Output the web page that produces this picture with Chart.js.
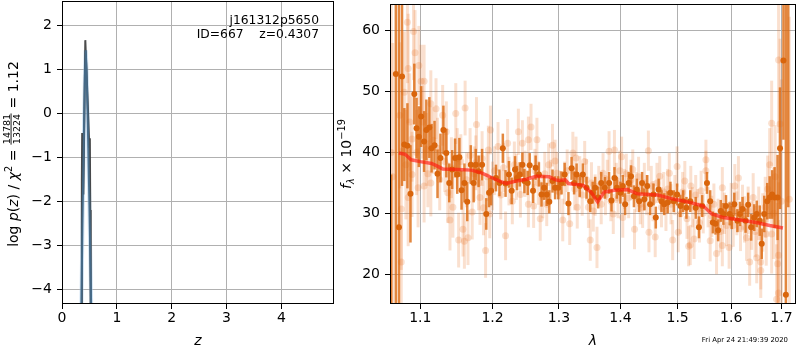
<!DOCTYPE html>
<html>
<head>
<meta charset="utf-8">
<script src="https://cdn.jsdelivr.net/npm/chart.js@4.4.1/dist/chart.umd.min.js"></script>
<style>
    html, body { margin: 0; padding: 0; background: #fff; }
    #wrap { position: relative; width: 800px; height: 350px; }
    #pz-chart { position: absolute; left: 0; top: 0; }
    #spec-chart { position: absolute; left: 330px; top: 0; }
</style>
</head>
<body>
<div id="wrap">
    <canvas id="pz-chart" width="340" height="350"></canvas>
    <canvas id="spec-chart" width="470" height="350"></canvas>
</div>
<script>
// left panel: redshift probability
const pzTicksX = [0, 1, 2, 3, 4];
const pzTicksY = [-4, -3, -2, -1, 0, 1, 2];
const pzZ = [0.350, 0.372, 0.398, 0.418, 0.432, 0.447, 0.470, 0.500, 0.520, 0.537];
const pzLogP = [-4.8, -2.6, -0.6, 0.85, 1.43, 1.0, -0.2, -2.1, -3.5, -4.8];
const chiZ = [0.355, 0.362, 0.368, 0.389, 0.425, 0.440, 0.470, 0.497, 0.508, 0.515, 0.524];
const chiLogP = [-4.8, -1.5, -0.45, -1.85, 1.66, 1.15, 0.2, -0.77, -0.57, -2.2, -4.8];

// right panel: spectrum
const waveTicks = [1.1, 1.2, 1.3, 1.4, 1.5, 1.6, 1.7];
const fluxTicks = [20, 30, 40, 50, 60];

const rawWave = [
    1.062, 1.064, 1.073, 1.075, 1.075, 1.079, 1.081, 1.083, 1.084, 1.084,
    1.086, 1.089, 1.089, 1.091, 1.093, 1.095, 1.097, 1.098, 1.101, 1.103,
    1.105, 1.105, 1.108, 1.110, 1.114, 1.114, 1.117, 1.121, 1.123, 1.126,
    1.130, 1.133, 1.135, 1.137, 1.140, 1.142, 1.144, 1.148, 1.150, 1.152,
    1.155, 1.158, 1.160, 1.161, 1.163, 1.165, 1.168, 1.171, 1.174, 1.176,
    1.177, 1.180, 1.182, 1.185, 1.187, 1.190, 1.192, 1.194, 1.196, 1.197,
    1.200, 1.203, 1.208, 1.212, 1.216, 1.219, 1.222, 1.224, 1.229, 1.232,
    1.235, 1.238, 1.241, 1.244, 1.248, 1.253, 1.253, 1.257, 1.261, 1.263,
    1.266, 1.268, 1.271, 1.275, 1.278, 1.281, 1.284, 1.287, 1.290, 1.294,
    1.297, 1.301, 1.306, 1.309, 1.313, 1.317, 1.322, 1.325, 1.327, 1.329,
    1.333, 1.337, 1.341, 1.344, 1.347, 1.350, 1.352, 1.355, 1.358, 1.361,
    1.364, 1.368, 1.371, 1.375, 1.378, 1.381, 1.384, 1.388, 1.390, 1.393,
    1.396, 1.399, 1.402, 1.404, 1.407, 1.410, 1.414, 1.418, 1.421, 1.424,
    1.427, 1.431, 1.434, 1.438, 1.441, 1.445, 1.448, 1.449, 1.453, 1.456,
    1.460, 1.463, 1.468, 1.471, 1.475, 1.479, 1.482, 1.485, 1.488, 1.491,
    1.495, 1.499, 1.501, 1.505, 1.509, 1.513, 1.517, 1.520, 1.523, 1.524,
    1.527, 1.530, 1.533, 1.537, 1.540, 1.543, 1.547, 1.552, 1.552, 1.556,
    1.560, 1.563, 1.567, 1.572, 1.575, 1.579, 1.583, 1.583, 1.587, 1.591,
    1.596, 1.600, 1.604, 1.607, 1.611, 1.614, 1.618, 1.622, 1.626, 1.630,
    1.633, 1.636, 1.640, 1.643, 1.647, 1.650, 1.654, 1.658, 1.658, 1.662,
    1.667, 1.669, 1.672, 1.676, 1.680, 1.680, 1.684, 1.687, 1.690, 1.692,
    1.694, 1.694, 1.694, 1.697, 1.700, 1.716
];
const rawFlux = [
    40.0, 36.0, 46.1, 30.7, 22.0, 49.9, 38.0, 61.4, 53.8, 32.6,
    45.0, 42.2, 36.4, 59.9, 56.4, 40.0, 34.2, 54.3, 51.7, 45.0,
    51.7, 34.5, 40.5, 36.5, 48.0, 35.0, 42.0, 47.2, 40.7, 35.5,
    46.1, 38.5, 43.4, 33.4, 28.9, 37.5, 31.0, 46.4, 39.0, 25.6,
    38.5, 27.4, 25.4, 47.3, 35.5, 26.0, 39.5, 30.2, 36.5, 38.3,
    44.6, 35.0, 32.6, 39.0, 30.9, 23.9, 36.0, 40.4, 29.9, 43.7,
    34.5, 37.0, 41.0, 33.0, 37.5, 26.3, 41.5, 35.3, 32.0, 38.0,
    36.0, 43.4, 33.1, 41.5, 36.5, 42.1, 31.5, 44.2, 31.2, 37.0,
    42.1, 35.0, 29.1, 32.8, 36.5, 31.5, 38.0, 35.3, 41.2, 38.6,
    36.6, 33.5, 28.9, 35.0, 37.0, 28.3, 39.9, 34.0, 39.1, 31.0,
    36.0, 33.0, 38.5, 35.5, 31.0, 25.6, 35.0, 30.4, 33.0, 24.4,
    34.5, 31.5, 36.6, 33.0, 35.5, 40.2, 32.0, 29.9, 40.4, 35.0,
    32.5, 37.0, 39.3, 29.3, 34.0, 36.5, 32.5, 35.5, 37.2, 27.4,
    33.5, 36.0, 31.5, 30.9, 35.0, 33.0, 40.3, 26.9, 34.5, 32.0,
    26.1, 35.0, 36.1, 31.0, 33.5, 30.4, 34.0, 36.6, 31.5, 25.6,
    33.0, 37.7, 26.9, 29.9, 33.5, 35.3, 29.1, 24.6, 24.8, 34.5,
    31.0, 25.8, 33.0, 30.7, 28.5, 33.7, 30.0, 38.8, 37.0, 31.0,
    25.5, 29.5, 31.5, 23.4, 29.0, 27.0, 34.2, 24.7, 30.0, 28.0,
    24.4, 31.5, 28.0, 34.5, 30.0, 35.8, 27.5, 31.0, 29.0, 26.0,
    30.5, 22.0, 28.0, 32.6, 27.0, 22.7, 30.0, 22.0, 20.6, 28.5,
    31.0, 26.6, 34.0, 38.0, 44.8, 26.6, 30.0, 36.0, 15.9, 21.7,
    55.2, 23.1, 16.9, 44.7, 32.0, 32.3
];
const rawErr = [
    25, 22, 12, 10, 8, 10, 9, 10, 9, 8,
    8, 7, 7, 8, 7, 7, 6.5, 6.5, 6, 6,
    6, 6, 6, 5.5, 5.5, 5.5, 5.5, 5, 5, 5,
    5, 5, 5, 5, 5, 5, 5, 5, 5, 4.5,
    4.5, 4.5, 4.5, 4.5, 4.5, 4.5, 4.5, 4.5, 4.5, 4.5,
    4.5, 4.5, 4.5, 4.5, 4.5, 4.5, 4, 4, 4, 4,
    4, 4, 4, 4, 4, 4, 4, 4, 3.8, 3.8,
    3.8, 3.8, 3.8, 3.8, 3.8, 3.8, 3.8, 3.8, 3.6, 3.6,
    3.6, 3.6, 3.6, 3.6, 3.6, 3.6, 3.5, 3.5, 3.5, 3.5,
    3.5, 3.5, 3.5, 3.5, 3.5, 3.5, 3.5, 3.5, 3.5, 3.5,
    3.4, 3.4, 3.4, 3.4, 3.4, 3.4, 3.4, 3.4, 3.4, 3.4,
    3.3, 3.3, 3.3, 3.3, 3.3, 3.3, 3.3, 3.3, 3.3, 3.3,
    3.3, 3.3, 3.3, 3.3, 3.3, 3.3, 3.3, 3.3, 3.3, 3.3,
    3.3, 3.3, 3.3, 3.3, 3.3, 3.3, 3.3, 3.3, 3.3, 3.3,
    3.3, 3.3, 3.3, 3.3, 3.3, 3.3, 3.3, 3.3, 3.3, 3.3,
    3.3, 3.3, 3.3, 3.3, 3.3, 3.3, 3.3, 3.3, 3.3, 3.3,
    3.3, 3.3, 3.3, 3.3, 3.3, 3.3, 3.3, 3.3, 3.3, 3.3,
    3.4, 3.4, 3.4, 3.4, 3.4, 3.4, 3.4, 3.4, 3.4, 3.4,
    3.5, 3.5, 3.5, 3.6, 3.6, 3.6, 3.7, 3.7, 3.8, 3.8,
    3.9, 3.9, 4.0, 4.0, 4.2, 4.2, 4.4, 4.5, 4.5, 4.8,
    5.0, 5.2, 5.5, 6.0, 7.0, 6.5, 7.5, 8.5, 9.0, 10,
    12, 12, 12, 14, 20, 30
];

const binWave = [
    1.062, 1.068, 1.072, 1.076, 1.079, 1.083, 1.087, 1.092, 1.095, 1.098,
    1.101, 1.105, 1.108, 1.112, 1.115, 1.119, 1.123, 1.127, 1.131, 1.135,
    1.139, 1.143, 1.147, 1.150, 1.153, 1.156, 1.160, 1.164, 1.169, 1.173,
    1.176, 1.180, 1.185, 1.191, 1.195, 1.198, 1.205, 1.210, 1.215, 1.219,
    1.224, 1.228, 1.233, 1.236, 1.240, 1.244, 1.247, 1.252, 1.255, 1.260,
    1.264, 1.269, 1.273, 1.277, 1.281, 1.285, 1.290, 1.294, 1.299, 1.304,
    1.309, 1.315, 1.320, 1.324, 1.328, 1.333, 1.338, 1.344, 1.350, 1.354,
    1.358, 1.363, 1.368, 1.374, 1.381, 1.385, 1.390, 1.394, 1.400, 1.404,
    1.408, 1.414, 1.418, 1.423, 1.428, 1.432, 1.437, 1.441, 1.446, 1.451,
    1.457, 1.461, 1.466, 1.471, 1.476, 1.482, 1.487, 1.493, 1.499, 1.505,
    1.510, 1.516, 1.523, 1.533, 1.539, 1.545, 1.554, 1.560, 1.565, 1.570,
    1.575, 1.580, 1.585, 1.590, 1.597, 1.601, 1.606, 1.612, 1.617, 1.622,
    1.628, 1.633, 1.639, 1.645, 1.650, 1.656, 1.660, 1.665, 1.671, 1.676,
    1.681, 1.686, 1.692, 1.697, 1.704, 1.709, 1.714
];
const binFlux = [
    10.0, 52.9, 27.7, 52.5, 41.3, 41.1, 33.2, 49.6, 44.0, 42.6,
    45.9, 41.8, 43.7, 44.1, 40.7, 41.2, 36.5, 39.1, 43.7, 39.9,
    35.0, 37.2, 39.1, 36.4, 39.2, 33.8, 35.0, 31.9, 38.0, 35.0,
    38.0, 36.9, 38.0, 29.9, 33.4, 33.7, 35.8, 35.0, 40.7, 34.9,
    36.4, 33.7, 37.2, 35.8, 36.4, 38.0, 35.3, 35.0, 37.9, 33.7,
    37.5, 36.4, 33.1, 34.2, 33.1, 31.9, 35.3, 34.2, 34.2, 35.0,
    36.4, 31.6, 37.4, 35.0, 36.4, 34.5, 36.4, 34.2, 32.0, 33.4,
    34.2, 32.6, 35.0, 34.2, 35.0, 32.1, 35.8, 34.2, 33.4, 34.5,
    31.5, 35.0, 36.1, 32.8, 33.9, 32.0, 35.0, 32.3, 34.5, 31.5,
    33.1, 29.3, 33.9, 32.0, 31.5, 31.8, 33.4, 32.0, 33.1, 31.2,
    32.0, 30.9, 32.0, 30.9, 27.7, 31.2, 35.0, 32.0, 28.5, 28.3,
    27.2, 30.4, 29.9, 31.2, 29.9, 29.3, 31.5, 28.8, 29.9, 30.7,
    28.8, 31.4, 27.7, 29.3, 29.9, 28.8, 25.0, 29.9, 32.0, 32.6,
    33.1, 32.6, 32.6, 40.7, 55.1, 16.6, 70.0
];
const binErr = [
    26.4, 40, 40, 18, 6, 7, 8, 5, 5, 5,
    5, 5, 5, 5, 4, 4, 4, 4, 4, 4,
    3.2, 3.2, 3.2, 3.2, 3.2, 3.2, 3.2, 3.2, 3.2, 3.2,
    2.6, 2.6, 2.6, 2.6, 2.4, 2.4, 2.2, 2.2, 2.4, 2.2,
    2.2, 2.2, 2.2, 2.0, 2.0, 2.0, 2.0, 2.0, 2.0, 2.0,
    2.0, 2.0, 2.0, 2.0, 1.9, 1.9, 1.9, 1.9, 1.9, 1.9,
    1.9, 1.9, 1.9, 1.9, 1.8, 1.8, 1.8, 1.8, 1.8, 1.8,
    1.8, 1.8, 1.8, 1.8, 1.8, 1.8, 1.8, 1.8, 1.8, 1.8,
    1.8, 1.8, 1.8, 1.8, 1.8, 1.8, 1.8, 1.8, 1.8, 1.8,
    1.8, 1.8, 1.8, 1.8, 1.8, 1.8, 1.8, 1.8, 1.8, 1.8,
    1.8, 1.8, 1.8, 1.8, 1.8, 1.8, 1.8, 1.8, 1.8, 1.8,
    1.8, 1.8, 1.8, 1.8, 1.9, 1.9, 1.9, 1.9, 2.0, 2.0,
    2.0, 2.0, 2.2, 2.2, 2.2, 2.5, 2.5, 3.0, 3.0, 3.5,
    4.0, 5.0, 7.0, 10, 13, 50, 39
];

const modelWave = [
    1.072, 1.080, 1.088, 1.100, 1.115, 1.122, 1.130, 1.150, 1.170, 1.185,
    1.200, 1.212, 1.220, 1.235, 1.250, 1.265, 1.285, 1.295, 1.300, 1.310,
    1.315, 1.339, 1.352, 1.362, 1.373, 1.390, 1.412, 1.429, 1.464, 1.494,
    1.522, 1.547, 1.563, 1.585, 1.617, 1.649, 1.676, 1.703
];
const modelFlux = [
    39.9, 39.7, 38.8, 38.5, 38.2, 37.8, 37.3, 37.2, 37.1, 36.6,
    35.8, 35.2, 34.9, 35.3, 35.6, 36.1, 36.0, 35.5, 35.4, 35.5,
    34.9, 34.6, 33.4, 31.9, 33.5, 33.8, 33.9, 33.2, 33.0, 32.3,
    31.8, 31.2, 29.9, 29.3, 28.9, 28.5, 28.0, 27.6
];

const RAW_COLOR = 'rgba(230, 115, 35, 0.22)';
const BIN_COLOR = '#d9650c';
const BIN_BAR_COLOR = 'rgba(220, 105, 15, 0.8)';
const MODEL_COLOR = 'rgba(255, 25, 15, 0.65)';
const FONT = '"DejaVu Sans"';

function toPoints(xs, ys) {
    return xs.map((x, i) => ({x: x, y: ys[i]}));
}

function errorSegments(xs, ys, es) {
    const pts = [];
    xs.forEach((x, i) => {
        pts.push({x: x, y: ys[i] - es[i]}, {x: x, y: ys[i] + es[i]}, {x: x, y: null});
    });
    return pts;
}

function minus(v) {
    return String(v).replace('-', '\u2212');
}

// text helpers for the math-like axis titles
function pieceWidth(ctx, p) {
    ctx.font = p.font;
    if (p.frac) {
        return Math.max(ctx.measureText(p.frac[0]).width, ctx.measureText(p.frac[1]).width) + 2;
    }
    return ctx.measureText(p.text).width;
}

function drawPiece(ctx, p, x) {
    ctx.font = p.font;
    if (p.frac) {
        const w = pieceWidth(ctx, p);
        ctx.textAlign = 'center';
        ctx.fillText(p.frac[0], x + w / 2, -8.3);
        ctx.fillText(p.frac[1], x + w / 2, 1.6);
        ctx.fillRect(x + 0.5, -7.4, w - 1, 0.9);
        ctx.textAlign = 'left';
        return;
    }
    ctx.fillText(p.text, x, p.dy || 0);
}

function drawRotated(ctx, pieces, bx, cy) {
    ctx.save();
    ctx.translate(bx, cy);
    ctx.rotate(-Math.PI / 2);
    ctx.textAlign = 'left';
    ctx.textBaseline = 'alphabetic';
    ctx.fillStyle = '#000';
    const widths = pieces.map(p => pieceWidth(ctx, p));
    const total = widths.reduce((s, w) => s + w, 0);
    let x = -total / 2;
    pieces.forEach((p, i) => {
        drawPiece(ctx, p, x);
        x += widths[i];
    });
    ctx.restore();
}

const R14 = '14px ' + FONT;
const I14 = 'italic 14px ' + FONT;
const S10 = '9.8px ' + FONT;

const pzTitle = [
    {text: 'log ', font: R14},
    {text: 'p', font: I14},
    {text: '(', font: R14},
    {text: 'z', font: I14},
    {text: ') / ', font: R14},
    {text: '\u03c7', font: I14},
    {text: '2', font: S10, dy: -6},
    {text: ' = ', font: R14},
    {frac: ['14781', '13224'], font: '9.5px ' + FONT},
    {text: ' = 1.12', font: R14}
];

const specTitle = [
    {text: 'f', font: I14},
    {text: '\u03bb', font: 'italic 9.8px ' + FONT, dy: 3},
    {text: ' \u00d7 10', font: R14},
    {text: '\u221219', font: S10, dy: -6}
];

const framePlugin = {
    id: 'frame',
    afterDatasetsDraw(chart) {
        const ctx = chart.ctx;
        const a = chart.chartArea;
        const l = Math.round(a.left) + 0.5;
        const t = Math.round(a.top) + 0.5;
        const r = Math.round(a.right) - 0.5;
        const b = Math.round(a.bottom) - 0.5;
        ctx.save();
        ctx.strokeStyle = '#000';
        ctx.lineWidth = 1;
        ctx.strokeRect(l, t, r - l, b - t);
        ctx.restore();
    }
};

const pzLabels = {
    id: 'pzLabels',
    afterDraw(chart) {
        const ctx = chart.ctx;
        const a = chart.chartArea;
        ctx.save();
        ctx.fillStyle = '#000';
        ctx.textAlign = 'right';
        ctx.textBaseline = 'alphabetic';
        ctx.font = '12.3px ' + FONT;
        ctx.fillText('j161312p5650', 319, 24);
        ctx.fillText('ID=667    z=0.4307', 319, 38);
        ctx.textAlign = 'center';
        ctx.font = I14;
        ctx.fillText('z', (a.left + a.right) / 2, 345);
        ctx.restore();
        drawRotated(ctx, pzTitle, 18, 154);
    }
};

// the spectrum canvas starts at page x = 330
const specLabels = {
    id: 'specLabels',
    afterDraw(chart) {
        const ctx = chart.ctx;
        const a = chart.chartArea;
        ctx.save();
        ctx.fillStyle = '#000';
        ctx.textAlign = 'center';
        ctx.textBaseline = 'alphabetic';
        ctx.font = I14;
        ctx.fillText('\u03bb', (a.left + a.right) / 2, 345);
        ctx.textAlign = 'right';
        ctx.font = '6.9px ' + FONT;
        ctx.fillText('Fri Apr 24 21:49:39 2020', 458, 342);
        ctx.restore();
        drawRotated(ctx, specTitle, 21, 154);
    }
};

function axisGrid() {
    return {color: '#b0b0b0', lineWidth: 1, tickColor: '#000', tickLength: 5, tickWidth: 1};
}

function tickFont() {
    return {family: 'DejaVu Sans', size: 14};
}

function noPadding(s) {
    s.paddingTop = 0;
    s.paddingBottom = 0;
    s.paddingLeft = 0;
    s.paddingRight = 0;
}

const pzConfig = {
    type: 'scatter',
    data: {
        datasets: [
            {
                data: toPoints(pzZ, pzLogP),
                showLine: true,
                borderColor: 'rgba(70, 108, 138, 0.95)',
                borderWidth: 2,
                pointRadius: 0,
                clip: 0,
                order: 1
            },
            {
                data: toPoints(chiZ, chiLogP),
                showLine: true,
                borderColor: 'rgba(45, 45, 45, 0.85)',
                borderWidth: 2,
                pointRadius: 0,
                clip: 0,
                order: 2
            },
            {
                data: toPoints(pzZ, pzLogP),
                showLine: true,
                borderColor: 'rgba(160, 200, 235, 0.5)',
                borderWidth: 4,
                pointRadius: 0,
                clip: 0,
                order: 3
            }
        ]
    },
    options: {
        responsive: false,
        animation: false,
        events: [],
        layout: {padding: {left: 0, right: 6, top: 1, bottom: 0}},
        plugins: {legend: {display: false}, tooltip: {enabled: false}},
        scales: {
            x: {
                type: 'linear',
                min: 0,
                max: 4.96,
                grid: axisGrid(),
                border: {display: false},
                ticks: {color: '#000', font: tickFont(), padding: 1, maxRotation: 0, autoSkip: false,
                    callback: (v) => minus(v)},
                afterBuildTicks: (s) => { s.ticks = pzTicksX.map(v => ({value: v})); },
                afterFit: (s) => { s.height = 46; noPadding(s); }
            },
            y: {
                type: 'linear',
                min: -4.34,
                max: 2.55,
                grid: axisGrid(),
                border: {display: false},
                ticks: {color: '#000', font: tickFont(), padding: 5, autoSkip: false,
                    callback: (v) => minus(v)},
                afterBuildTicks: (s) => { s.ticks = pzTicksY.map(v => ({value: v})); },
                afterFit: (s) => { s.width = 62; noPadding(s); }
            }
        }
    },
    plugins: [framePlugin, pzLabels]
};

const specConfig = {
    type: 'scatter',
    data: {
        datasets: [
            {
                data: toPoints(modelWave, modelFlux),
                showLine: true,
                borderColor: MODEL_COLOR,
                borderWidth: 3.5,
                pointRadius: 0,
                clip: 0,
                order: 1
            },
            {
                data: toPoints(binWave, binFlux),
                backgroundColor: BIN_COLOR,
                borderWidth: 0,
                pointRadius: 3,
                clip: 0,
                order: 2
            },
            {
                data: errorSegments(binWave, binFlux, binErr),
                showLine: true,
                spanGaps: false,
                borderColor: BIN_BAR_COLOR,
                borderWidth: 2.5,
                borderCapStyle: 'butt',
                pointRadius: 0,
                clip: 0,
                segment: {borderWidth: () => undefined},
                order: 3
            },
            {
                data: toPoints(rawWave, rawFlux),
                backgroundColor: RAW_COLOR,
                borderWidth: 0,
                pointRadius: 3.5,
                clip: 0,
                order: 4
            },
            {
                data: errorSegments(rawWave, rawFlux, rawErr),
                showLine: true,
                spanGaps: false,
                borderColor: RAW_COLOR,
                borderWidth: 3,
                borderCapStyle: 'butt',
                pointRadius: 0,
                clip: 0,
                segment: {borderWidth: () => undefined},
                order: 5
            }
        ]
    },
    options: {
        responsive: false,
        animation: false,
        events: [],
        layout: {padding: {left: 0, right: 1, top: 1, bottom: 0}},
        plugins: {legend: {display: false}, tooltip: {enabled: false}},
        scales: {
            x: {
                type: 'logarithmic',
                min: 1.0605,
                max: 1.730,
                grid: axisGrid(),
                border: {display: false},
                ticks: {color: '#000', font: tickFont(), padding: 1, maxRotation: 0, autoSkip: false,
                    callback: (v) => Number(v).toFixed(1)},
                afterBuildTicks: (s) => { s.ticks = waveTicks.map(v => ({value: v})); },
                afterFit: (s) => { s.height = 46; noPadding(s); }
            },
            y: {
                type: 'linear',
                min: 15.1,
                max: 64.4,
                grid: axisGrid(),
                border: {display: false},
                ticks: {color: '#000', font: tickFont(), padding: 5, autoSkip: false},
                afterBuildTicks: (s) => { s.ticks = fluxTicks.map(v => ({value: v})); },
                afterFit: (s) => { s.width = 60; noPadding(s); }
            }
        }
    },
    plugins: [framePlugin, specLabels]
};

new Chart(document.getElementById('pz-chart'), pzConfig);
new Chart(document.getElementById('spec-chart'), specConfig);
</script>
</body>
</html>
